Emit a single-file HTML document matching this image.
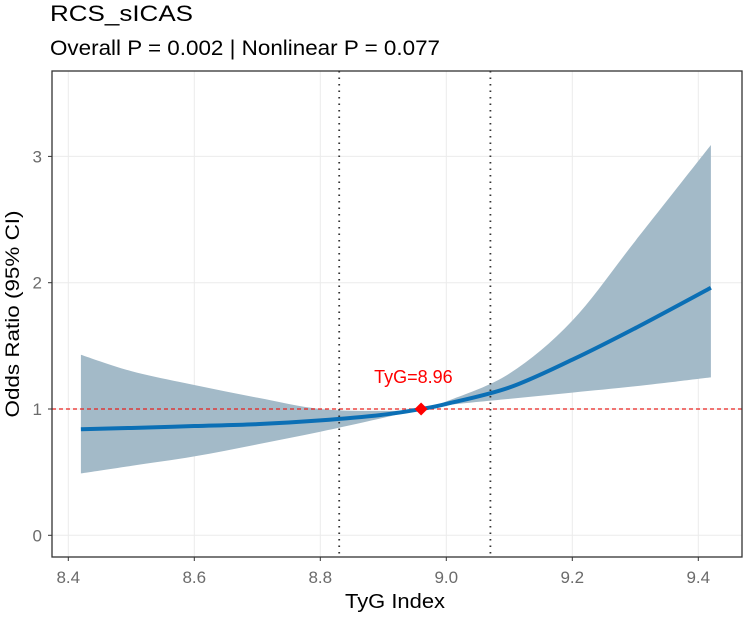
<!DOCTYPE html>
<html><head><meta charset="utf-8"><style>
body{margin:0;background:#fff;font-family:"Liberation Sans",Arial,sans-serif}
</style></head><body>
<svg id="chart" width="744" height="616" xmlns="http://www.w3.org/2000/svg" font-family="Liberation Sans, Arial, sans-serif">
<text x="50" y="21" font-size="22" textLength="143" lengthAdjust="spacingAndGlyphs" fill="#000">RCS_sICAS</text>
<text x="50" y="55" font-size="21" textLength="390" lengthAdjust="spacingAndGlyphs" fill="#000">Overall P = 0.002 | Nonlinear P = 0.077</text>
<g id="plot"></g>
<text transform="translate(19,314) rotate(-90)" text-anchor="middle" font-size="19" textLength="207" lengthAdjust="spacingAndGlyphs" fill="#000">Odds Ratio (95% CI)</text>
<text x="395" y="608" text-anchor="middle" font-size="20" textLength="100" lengthAdjust="spacingAndGlyphs" fill="#000">TyG Index</text>
</svg>
<script>
const xs=[8.42,8.5,8.6,8.7,8.8,8.9,8.96,9.0,9.1,9.2,9.3,9.42];
const orVals=[0.84,0.85,0.865,0.88,0.91,0.955,1.0,1.04,1.17,1.39,1.64,1.96];
const lowerCI=[0.49,0.55,0.625,0.72,0.82,0.93,1.0,1.03,1.08,1.13,1.18,1.25];
const upperCI=[1.43,1.3,1.19,1.09,1.0,0.985,1.0,1.06,1.28,1.70,2.33,3.09];
const xTicks=[8.4,8.6,8.8,9.0,9.2,9.4];
const yTicks=[0,1,2,3];
const cutoffs=[8.83,9.07];
const refPoint=[8.96,1.0];
const refLabel="TyG=8.96";

const L=52,R=742,T=71,B=557;
const X=v=>446.3+(v-9)*630;
const Y=v=>535.3-v*126.3;
const NS="http://www.w3.org/2000/svg";
const g=document.getElementById('plot');
function mk(t,a){const e=document.createElementNS(NS,t);for(const k in a)e.setAttribute(k,a[k]);g.appendChild(e);return e;}
xTicks.forEach(v=>{const e=mk('line',{x1:X(v),x2:X(v),y1:T,y2:B,stroke:'#ebebeb','stroke-width':1});

});
yTicks.forEach(v=>{const e=mk('line',{x1:L,x2:R,y1:Y(v),y2:Y(v),stroke:'#ebebeb','stroke-width':1});

});
function smooth(pts){let d='M'+pts[0][0]+','+pts[0][1];
for(let i=0;i<pts.length-1;i++){const p0=pts[Math.max(0,i-1)],p1=pts[i],p2=pts[i+1],p3=pts[Math.min(pts.length-1,i+2)];
d+='C'+(p1[0]+(p2[0]-p0[0])/6)+','+(p1[1]+(p2[1]-p0[1])/6)+' '+(p2[0]-(p3[0]-p1[0])/6)+','+(p2[1]-(p3[1]-p1[1])/6)+' '+p2[0]+','+p2[1];}
return d;}
const up=xs.map((x,i)=>[X(x),Y(upperCI[i])]);
const lo=xs.map((x,i)=>[X(x),Y(lowerCI[i])]).reverse();
const rib=mk('path',{d:smooth(up)+'L'+smooth(lo).slice(1)+'Z',fill:'#a3bac8'});


const rl=mk('line',{x1:L,x2:R,y1:Y(1),y2:Y(1),stroke:'#e8211d','stroke-width':1.2,'stroke-dasharray':'4,3'});


cutoffs.forEach(v=>{const e=mk('line',{x1:X(v),x2:X(v),y1:T,y2:B,stroke:'#333','stroke-width':1.8,'stroke-dasharray':'1.5,5'});

});
const ln=mk('path',{d:smooth(xs.map((x,i)=>[X(x),Y(orVals[i])])),fill:'none',stroke:'#0b6fb5','stroke-width':4});


const px=X(refPoint[0]),py=Y(refPoint[1]);
const dm=mk('path',{d:`M${px},${py-6.5}L${px+6.5},${py}L${px},${py+6.5}L${px-6.5},${py}Z`,fill:'#ff0000'});


const lb=mk('text',{x:px-47,y:py-26,'font-size':18,fill:'#ff0000'});lb.textContent=refLabel;


const pb=mk('rect',{x:L,y:T,width:R-L,height:B-T,fill:'none',stroke:'#333','stroke-width':1.3});


xTicks.forEach(v=>{const t=mk('line',{x1:X(v),x2:X(v),y1:B,y2:B+4,stroke:'#333'});


const e=mk('text',{x:X(v),y:583,'text-anchor':'middle','font-size':17,fill:'#6b6b6b'});e.textContent=v.toFixed(1);

});
yTicks.forEach(v=>{const t=mk('line',{x1:L-4,x2:L,y1:Y(v),y2:Y(v),stroke:'#333'});


const e=mk('text',{x:L-10,y:Y(v)+6,'text-anchor':'end','font-size':17,fill:'#6b6b6b'});e.textContent=v;

});
</script>
</body></html>
